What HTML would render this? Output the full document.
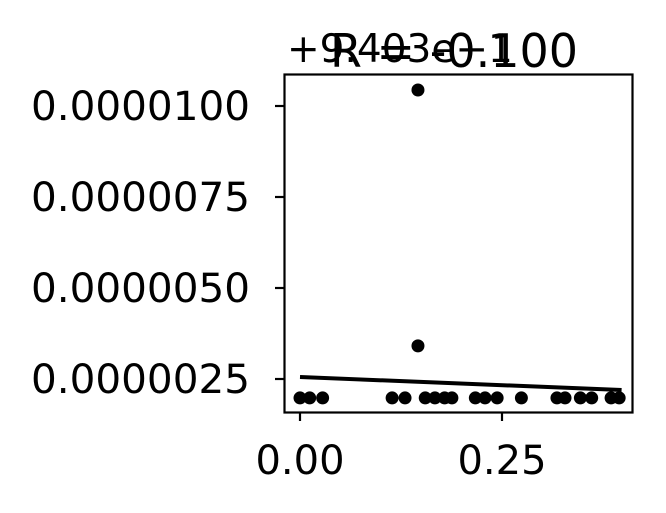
<!DOCTYPE html>
<html><head><meta charset="utf-8"><style>
html,body{margin:0;padding:0;background:#fff;}
svg{display:block;font-family:"DejaVu Sans","Liberation Sans",sans-serif;}
</style></head><body>
<svg id="chart" width="666" height="513">
<text x="287" y="62" font-size="39">+9.403e−1</text>
<text x="454" y="67" font-size="46" text-anchor="middle">R = -0.100</text>
<g id="ticks"></g>
<g id="marks"></g>
<rect x="284.5" y="74.5" width="348" height="338" fill="none" stroke="#000" stroke-width="2.2"/>
</svg>
<script>
const xs = [0,0.012,0.028,0.114,0.130,0.155,0.167,0.179,0.188,0.217,0.229,0.244,0.274,0.318,0.328,0.347,0.361,0.385,0.395,0.146,0.146];
const ys = [1.98e-6,1.98e-6,1.98e-6,1.98e-6,1.98e-6,1.98e-6,1.98e-6,1.98e-6,1.98e-6,1.98e-6,1.98e-6,1.98e-6,1.98e-6,1.98e-6,1.98e-6,1.98e-6,1.98e-6,1.98e-6,1.98e-6,3.41e-6,10.44e-6];
const xTicks = [0,0.25];
const xTickLabels = ["0.00","0.25"];
const yTicks = [2.5e-6,5e-6,7.5e-6,10e-6];
const yTickLabels = ["0.0000025","0.0000050","0.0000075","0.0000100"];
const fitIntercept = 2.555e-6;
const fitSlope = -0.9e-6;
const fitRange = [0,0.398];

const NS="http://www.w3.org/2000/svg";
const X=v=>300+v*808;
const Y=v=>379-(v-2.5e-6)/2.5e-6*91;
function mk(tag,attrs,parent){const e=document.createElementNS(NS,tag);for(const k in attrs)e.setAttribute(k,attrs[k]);parent.appendChild(e);return e;}
const tk=document.getElementById('ticks'), mg=document.getElementById('marks');
xTicks.forEach((t,i)=>{
  const l=mk('line',{x1:X(t),x2:X(t),y1:412,y2:421,stroke:'#000','stroke-width':2.2},tk);
  
  
  const tx=mk('text',{x:X(t),y:474,'font-size':40,'text-anchor':'middle'},tk);
  tx.textContent=xTickLabels[i];
  
  
});
yTicks.forEach((t,i)=>{
  const l=mk('line',{x1:275,x2:284,y1:Y(t),y2:Y(t),stroke:'#000','stroke-width':2.2},tk);
  
  
  const tx=mk('text',{x:250,y:Y(t)+14,'font-size':40.5,'text-anchor':'end'},tk);
  tx.textContent=yTickLabels[i];
  
  
});
xs.forEach((x,i)=>{
  const c=mk('circle',{cx:X(x),cy:Y(ys[i]),r:6.5,fill:'#000'},mg);
  
  
});
const fl=mk('line',{x1:X(fitRange[0]),y1:Y(fitIntercept+fitSlope*fitRange[0]),x2:X(fitRange[1]),y2:Y(fitIntercept+fitSlope*fitRange[1]),stroke:'#000','stroke-width':4},mg);


</script>
</body></html>
